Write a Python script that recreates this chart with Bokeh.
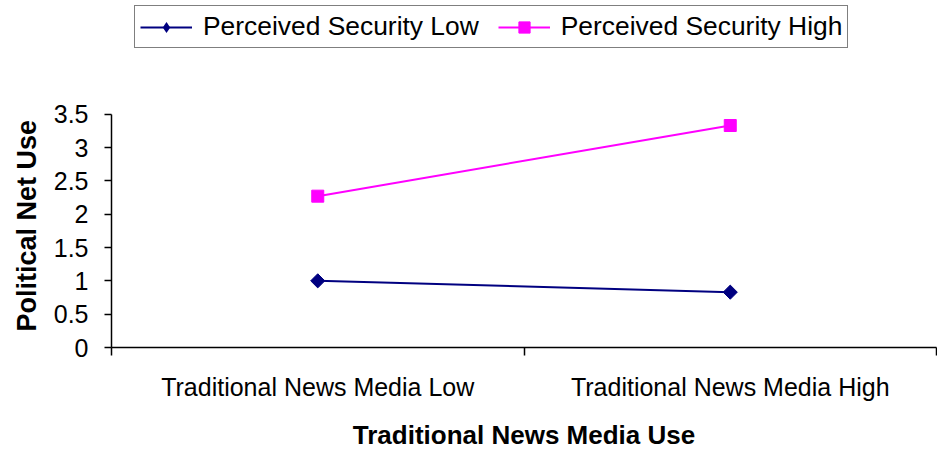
import math

from bokeh.embed import file_html
from bokeh.models import (ColumnDataSource, FixedTicker, Legend, LegendItem,
                          Range1d, Title)
from bokeh.plotting import figure
from bokeh.resources import INLINE

# Chart data
categories = ["Traditional News Media Low", "Traditional News Media High"]
security_low = [1.00, 0.83]
security_high = [2.27, 3.33]
series_names = ["Perceived Security Low", "Perceived Security High"]
y_ticks = [0, 0.5, 1, 1.5, 2, 2.5, 3, 3.5]
y_tick_labels = ["0", "0.5", "1", "1.5", "2", "2.5", "3", "3.5"]
x_title = "Traditional News Media Use"
y_title = "Political Net Use"

FONT = "Liberation Sans"
NAVY = "#000080"
MAGENTA = "#FF00FF"

# Layout: the frame runs to the top of the canvas so the legend box can sit
# inside it; the visible y axis is bounded to 0..3.5 (234 px tall).
FRAME_H = 348
AXIS_H = 234
Y_MAX = 3.5
y_top = Y_MAX * FRAME_H / AXIS_H

# categories sit at the centres of unit-wide slots
x_pos = [i + 0.5 for i in range(len(categories))]

p = figure(
    width=937, height=452,
    output_backend="svg", toolbar_location=None,
    x_range=Range1d(0, len(categories)), y_range=Range1d(0, y_top),
    min_border_left=111, min_border_right=1,
    min_border_top=0, min_border_bottom=104,
)
p.outline_line_color = None
p.xgrid.visible = False
p.ygrid.visible = False
p.background_fill_color = "white"
p.border_fill_color = "white"

src_low = ColumnDataSource(dict(x=x_pos, y=security_low))
src_high = ColumnDataSource(dict(x=x_pos, y=security_high))

line_low = p.line("x", "y", source=src_low, line_color=NAVY, line_width=2)
# legend key for the low series (legend keys ignore marker angles); it sits
# entirely underneath the turned squares drawn next
key_low = p.scatter("x", "y", source=src_low, marker="diamond", size=13,
                    fill_color=NAVY, line_color=None)
# diamonds drawn as squares turned by 45 degrees
mark_low = p.scatter("x", "y", source=src_low, marker="square", size=10,
                     angle=math.pi / 4, fill_color=NAVY, line_color=NAVY)
line_high = p.line("x", "y", source=src_high, line_color=MAGENTA, line_width=2)
mark_high = p.scatter("x", "y", source=src_high, marker="square", size=12,
                      fill_color=MAGENTA, line_color=MAGENTA)

# x axis: labels at slot centres, tick marks on slot boundaries
xa = p.xaxis[0]
xa.ticker = FixedTicker(ticks=x_pos, minor_ticks=list(range(len(categories) + 1)))
xa.major_label_overrides = {x: c for x, c in zip(x_pos, categories)}
xa.major_tick_in = 0
xa.major_tick_out = 0
xa.minor_tick_in = 0
xa.minor_tick_out = 8
xa.minor_tick_line_color = "black"
xa.minor_tick_line_width = 1.5
xa.axis_line_color = "black"
xa.axis_line_width = 1.5
xa.major_label_text_font = FONT
xa.major_label_text_font_size = "25px"
xa.major_label_text_color = "black"
xa.major_label_standoff = 17
xa.axis_label = x_title
xa.axis_label_text_font = FONT
xa.axis_label_text_font_size = "26px"
xa.axis_label_text_font_style = "bold"
xa.axis_label_text_color = "black"
xa.axis_label_standoff = 16

ya = p.yaxis[0]
ya.bounds = (0, Y_MAX)
ya.ticker = FixedTicker(ticks=y_ticks, minor_ticks=[])
ya.major_label_overrides = {t: s for t, s in zip(y_ticks, y_tick_labels)}
ya.major_tick_in = 0
ya.major_tick_out = 7
ya.major_tick_line_color = "black"
ya.major_tick_line_width = 1.5
ya.axis_line_color = "black"
ya.axis_line_width = 1.5
ya.major_label_text_font = FONT
ya.major_label_text_font_size = "25px"
ya.major_label_text_color = "black"
ya.major_label_standoff = 16

# y axis title, starting level with the bottom of the axis
p.add_layout(Title(text=y_title, align="left", offset=16, standoff=18,
                   text_font=FONT, text_font_size="27px",
                   text_font_style="bold", text_color="black"), "left")

legend = Legend(
    items=[
        LegendItem(label=series_names[0], renderers=[line_low, key_low]),
        LegendItem(label=series_names[1], renderers=[line_high, mark_high]),
    ],
    orientation="horizontal",
    location=(23, 299),
    margin=0,
    padding=5,
    spacing=19,
    glyph_width=52,
    glyph_height=28,
    label_height=25,
    label_standoff=11,
    label_text_font=FONT,
    label_text_font_size="26.4px",
    label_text_color="black",
    border_line_color="black",
    border_line_width=1.5,
    background_fill_color="white",
    background_fill_alpha=1.0,
)
p.add_layout(legend, "center")

open("out.html", "w").write(file_html(p, INLINE))
